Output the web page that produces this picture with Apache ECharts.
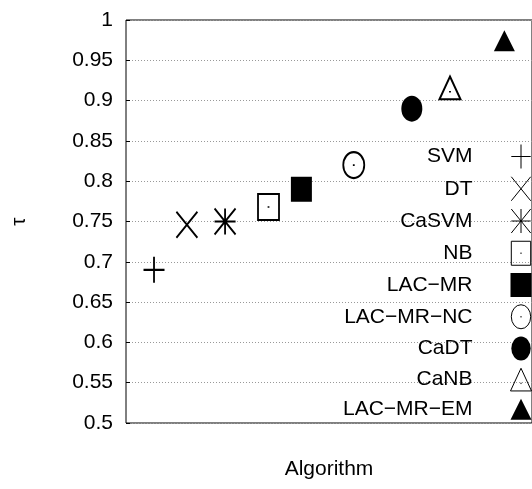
<!DOCTYPE html>
<html>
<head>
<meta charset="utf-8">
<script src="https://cdn.jsdelivr.net/npm/echarts@6/dist/echarts.min.js"></script>
<style>
html,body{margin:0;padding:0;background:#fff;}
#chart{width:532px;height:489px;}
</style>
</head>
<body>
<div id="chart"></div>
<script>
// ---- data ----
const algorithms = ['SVM', 'DT', 'CaSVM', 'NB', 'LAC\u2212MR', 'LAC\u2212MR\u2212NC', 'CaDT', 'CaNB', 'LAC\u2212MR\u2212EM'];
const tauValues = [0.690, 0.746, 0.750, 0.768, 0.790, 0.820, 0.890, 0.911, 0.970];
// horizontal placement of each algorithm along the (unlabelled) x axis, 0..100
const xPositions = [6.9, 15.0, 24.4, 35.1, 43.2, 56.1, 70.4, 79.8, 93.2];
const yTicks = [0.5, 0.55, 0.6, 0.65, 0.7, 0.75, 0.8, 0.85, 0.9, 0.95, 1];
const yTickLabels = ['0.5', '0.55', '0.6', '0.65', '0.7', '0.75', '0.8', '0.85', '0.9', '0.95', '1'];
const xAxisTitle = 'Algorithm';
const yAxisTitle = '\u03c4';

// ---- marker styles (gnuplot point types) ----
const markers = [
  {symbol: 'path://M0,13H21M10.5,0V26', size: [21, 26], fill: false},
  {symbol: 'path://M0,0L21,26M21,0L0,26', size: [21, 26], fill: false},
  {symbol: 'path://M0,0L21,26M21,0L0,26M0,13H21M10.5,0V26', size: [21, 26], fill: false},
  {symbol: 'path://M0,0H21V26H0Z M10.5,12.2L10.5,13.8', size: [21, 26], fill: false},
  {symbol: 'rect', size: [21, 25], fill: true},
  {symbol: 'path://M0,13A10.5,13,0,1,1,21,13A10.5,13,0,1,1,0,13Z M10.5,12.2L10.5,13.8', size: [21, 26], fill: false},
  {symbol: 'path://M0,13A10.5,13,0,1,1,21,13A10.5,13,0,1,1,0,13Z', size: [21, 26], fill: true},
  {symbol: 'path://M10.5,0L21,22.7L0,22.7Z M10.5,14.4L10.5,15.8', size: [21, 22.7], fill: false, offset: [0, -3.8]},
  {symbol: 'path://M10.5,0L21,21L0,21Z', size: [21, 21], fill: true, offset: [0, -3.5]}
];

const FONT = 'Liberation Sans, Arial, Helvetica, sans-serif';

const series = algorithms.map(function (name, i) {
  const m = markers[i];
  return {
    name: name,
    type: 'scatter',
    data: [[xPositions[i], tauValues[i]]],
    symbol: m.symbol,
    symbolSize: m.size,
    symbolOffset: m.offset || [0, 0],
    symbolKeepAspect: false,
    itemStyle: m.fill
      ? {color: '#000', borderWidth: 0, opacity: 1}
      : {color: 'rgba(0,0,0,0)', borderColor: '#000', borderWidth: 2, opacity: 1},
    emphasis: {disabled: true},
    silent: true,
    z: 5
  };
});

const chart = echarts.init(document.getElementById('chart'), null, {renderer: 'canvas'});
chart.setOption({
  animation: false,
  backgroundColor: '#fff',
  textStyle: {fontFamily: FONT},
  grid: {
    left: 126, top: 20, width: 410, height: 403,
    show: true, borderColor: '#000', borderWidth: 1, backgroundColor: 'transparent'
  },
  xAxis: {
    type: 'value', min: 0, max: 100,
    name: xAxisTitle, nameLocation: 'middle', nameGap: 36,
    nameTextStyle: {fontSize: 21, color: '#000', fontFamily: FONT},
    axisLine: {show: false}, axisTick: {show: false}, axisLabel: {show: false},
    splitLine: {show: false}
  },
  yAxis: {
    type: 'value', min: 0.5, max: 1, interval: 0.05,
    name: yAxisTitle, nameLocation: 'middle', nameGap: 96,
    nameTextStyle: {fontSize: 21, color: '#000', fontFamily: FONT},
    axisLine: {show: false},
    axisTick: {show: true, inside: true, length: 4, lineStyle: {color: '#000', width: 1}},
    axisLabel: {
      margin: 13, fontSize: 21, color: '#000', fontFamily: FONT,
      formatter: function (v) {
        const idx = yTicks.findIndex(function (t) { return Math.abs(t - v) < 1e-9; });
        return idx >= 0 ? yTickLabels[idx] : '';
      }
    },
    splitLine: {show: true, lineStyle: {color: '#999', width: 1, type: [1, 2]}}
  },
  legend: {
    data: algorithms,
    orient: 'vertical',
    align: 'right',
    right: 0,
    top: 144,
    padding: 0,
    itemWidth: 21,
    itemHeight: 24,
    itemGap: 7.25,
    selectedMode: false,
    itemStyle: {borderWidth: 1},
    textStyle: {fontSize: 21, color: '#000', fontFamily: FONT, padding: [0, 33, 0, 0]}
  },
  series: series
});
</script>
</body>
</html>
